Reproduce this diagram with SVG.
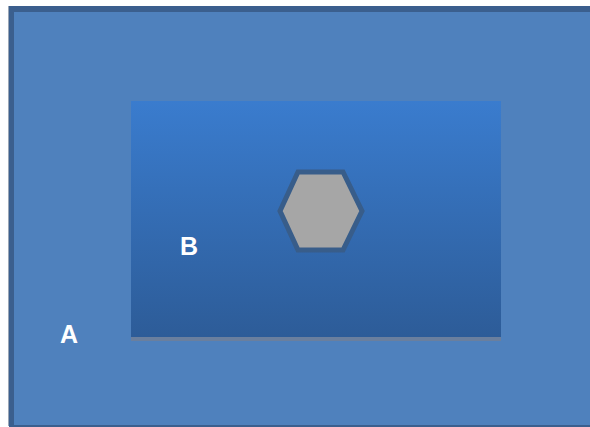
<svg xmlns="http://www.w3.org/2000/svg" width="590" height="427" viewBox="0 0 590 427">
  <defs>
    <linearGradient id="gB" x1="0" y1="0" x2="0" y2="1">
      <stop offset="0" stop-color="#3A7CCE"/>
      <stop offset="1" stop-color="#2D5C98"/>
    </linearGradient>
    <style>
      .lbl { font-family: "Liberation Sans", Arial, sans-serif; font-weight: bold; font-size: 25px; fill: #FFFFFF; text-anchor: middle; }
    </style>
  </defs>
  <rect width="590" height="427" fill="#FFFFFF"/>
  <g id="A">
    <rect x="8" y="6" width="590" height="420" fill="#9AA6B6"/>
    <rect x="9" y="6" width="590" height="421" fill="#3B5F8E"/>
    <rect x="14" y="12" width="590" height="413" fill="#4F81BD"/>
    <text class="lbl" x="69" y="343">A</text>
  </g>
  <g id="B">
    <rect x="131" y="105" width="370" height="236" fill="#6A7F9E"/>
    <rect x="131" y="101" width="370" height="236" fill="url(#gB)"/>
    <text class="lbl" x="189" y="255">B</text>
  </g>
  <g id="hex">
    <polygon points="280,211 298,172 343,172 362,211 343,250 298,250" fill="#A6A6A6" stroke="#385D8A" stroke-width="5" stroke-linejoin="miter"/>
  </g>
  <g id="connectors"/>
</svg>
